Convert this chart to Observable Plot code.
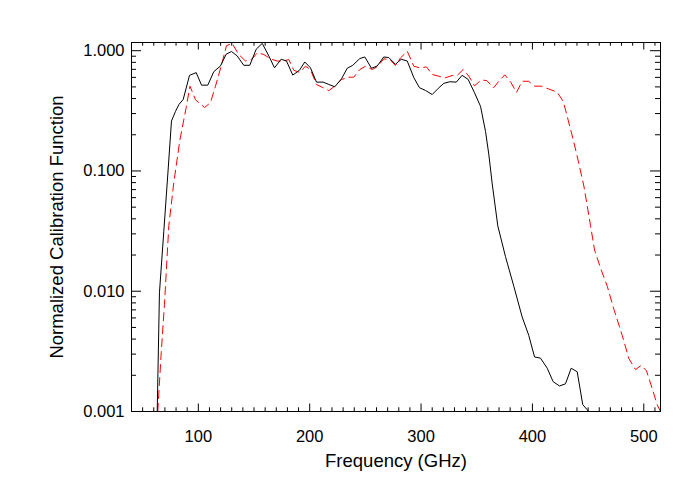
<!DOCTYPE html>
<html>
<head>
<meta charset="utf-8">
<script src="https://cdn.jsdelivr.net/npm/d3@7"></script>
<script src="https://cdn.jsdelivr.net/npm/@observablehq/plot@0.6"></script>
<style>
  html, body { margin: 0; padding: 0; background: #fff; }
  #chart { width: 700px; height: 500px; }
</style>
</head>
<body>
<div id="chart"></div>
<script>
// Black solid curve
const blackFreq = [63.1, 65.1, 69.0, 73.0, 75.9, 79.5, 82.5, 86.4, 92.1, 98.1, 102.9, 108.5, 113.9, 119.9, 125.0, 129.8, 134.9, 140.8, 146.2, 152.0, 157.4, 163.3, 168.4, 174.4, 179.2, 184.8, 190.8, 195.6, 200.7, 206.1, 212.1, 217.2, 222.5, 228.6, 233.7, 238.7, 245.0, 249.5, 255.5, 260.6, 266.5, 271.0, 277.0, 282.2, 287.6, 293.5, 298.6, 304.0, 310.0, 315.4, 320.4, 325.8, 331.6, 336.9, 342.3, 348.0, 353.4, 357.9, 360.9, 363.9, 368.9, 375.8, 383.3, 390.8, 396.7, 401.9, 407.2, 413.3, 418.6, 424.3, 429.7, 434.8, 440.2, 445.2, 450.6];
const blackCal = [0.001, 0.0097, 0.0315, 0.106, 0.26, 0.313, 0.356, 0.393, 0.624, 0.657, 0.517, 0.517, 0.67, 0.746, 0.935, 0.985, 0.905, 0.756, 0.756, 1.03, 1.15, 0.905, 0.72, 0.85, 0.82, 0.627, 0.687, 0.806, 0.72, 0.548, 0.548, 0.524, 0.501, 0.585, 0.714, 0.756, 0.86, 0.887, 0.714, 0.746, 0.887, 0.877, 0.771, 0.849, 0.821, 0.597, 0.492, 0.467, 0.432, 0.486, 0.535, 0.552, 0.548, 0.624, 0.577, 0.447, 0.345, 0.213, 0.136, 0.078, 0.035, 0.0194, 0.011, 0.0061, 0.0043, 0.00284, 0.00278, 0.00229, 0.00177, 0.00163, 0.0017, 0.00229, 0.00214, 0.00114, 0.001];

// Red dashed curve
const redFreq = [63.6, 66.7, 69.6, 73.5, 78.0, 83.4, 89.1, 92.5, 97.5, 105.6, 110.9, 115.4, 120.5, 125.3, 130.4, 136.3, 142.4, 148.4, 152.9, 158.8, 164.8, 170.8, 176.8, 181.2, 185.7, 191.1, 196.2, 200.7, 206.1, 211.2, 217.2, 223.2, 228.6, 234.6, 239.6, 245.0, 250.2, 256.2, 261.2, 266.5, 271.9, 277.0, 281.5, 287.6, 293.5, 298.9, 304.9, 310.0, 315.9, 321.3, 327.9, 332.4, 337.8, 342.9, 348.0, 354.0, 359.0, 365.0, 370.0, 375.2, 380.9, 385.7, 390.8, 396.7, 401.9, 407.9, 414.7, 422.2, 427.6, 431.2, 435.1, 439.6, 446.2, 452.2, 455.8, 461.8, 467.2, 473.1, 480.6, 486.6, 492.6, 497.7, 502.4, 507.5, 512.0, 515.0];
const redCal = [0.001, 0.0031, 0.0078, 0.035, 0.08, 0.18, 0.337, 0.507, 0.39, 0.337, 0.37, 0.507, 0.743, 1.1, 1.15, 0.93, 0.82, 0.855, 0.96, 0.93, 0.855, 0.82, 0.82, 0.845, 0.688, 0.66, 0.743, 0.697, 0.523, 0.497, 0.466, 0.513, 0.576, 0.602, 0.602, 0.697, 0.743, 0.697, 0.743, 0.855, 0.845, 0.753, 0.87, 0.99, 0.743, 0.72, 0.733, 0.634, 0.614, 0.593, 0.622, 0.622, 0.697, 0.614, 0.51, 0.57, 0.565, 0.49, 0.56, 0.63, 0.54, 0.45, 0.557, 0.557, 0.507, 0.507, 0.48, 0.452, 0.38, 0.285, 0.207, 0.14, 0.075, 0.035, 0.022, 0.015, 0.011, 0.0071, 0.0043, 0.00275, 0.00223, 0.00242, 0.00218, 0.00156, 0.00114, 0.001];

// Axis ticks and labels
const xMajorTicks = [100, 200, 300, 400, 500];
const xMinorTicks = d3.range(50, 515, 10).filter(v => v % 100 !== 0);
const yMajorTicks = [0.001, 0.01, 0.1, 1];
const yMinorTicks = [-3, -2, -1].flatMap(k => d3.range(2, 10).map(m => +(m * Math.pow(10, k)).toPrecision(3)));
const xTitle = "Frequency (GHz)";
const yTitle = "Normalized Calibration Function";

const W = 700, H = 500;
const mL = 131, mR = 40, mT = 42, mB = 89;
const innerW = W - mL - mR, innerH = H - mT - mB;

const black = blackFreq.map((f, i) => ({f, v: blackCal[i]}));
const red = redFreq.map((f, i) => ({f, v: redCal[i]}));

const chart = Plot.plot({
  width: W,
  height: H,
  marginLeft: mL,
  marginRight: mR,
  marginTop: mT,
  marginBottom: mB,
  style: {fontFamily: "'Liberation Sans', Arial, Helvetica, sans-serif", fontSize: "16.5px", color: "black", background: "white"},
  x: {domain: [40, 515], axis: null},
  y: {type: "log", domain: [0.001, 1.17], axis: null},
  marks: [
    Plot.line(red, {x: "f", y: "v", stroke: "#ff0000", strokeWidth: 1, strokeDasharray: "8,5", clip: true}),
    Plot.line(black, {x: "f", y: "v", stroke: "black", strokeWidth: 1, clip: true}),
    // tick labels
    Plot.axisX(xMajorTicks, {anchor: "bottom", tickSize: 0, tickPadding: 19, tickFormat: d => String(d), label: null, fontSize: 16.5}),
    Plot.axisY(yMajorTicks, {anchor: "left", tickSize: 0, tickPadding: 7, tickFormat: d3.format(".3f"), label: null, fontSize: 16.5}),
    // inward ticks on all four sides
    Plot.ruleX(xMajorTicks, {x: d => d, insetTop: innerH - 7.5, stroke: "black"}),
    Plot.ruleX(xMajorTicks, {x: d => d, insetBottom: innerH - 7.5, stroke: "black"}),
    Plot.ruleX(xMinorTicks, {x: d => d, insetTop: innerH - 3.7, stroke: "black"}),
    Plot.ruleX(xMinorTicks, {x: d => d, insetBottom: innerH - 3.7, stroke: "black"}),
    Plot.ruleY(yMajorTicks, {y: d => d, insetRight: innerW - 10, stroke: "black"}),
    Plot.ruleY(yMajorTicks, {y: d => d, insetLeft: innerW - 10, stroke: "black"}),
    Plot.ruleY(yMinorTicks, {y: d => d, insetRight: innerW - 5, stroke: "black"}),
    Plot.ruleY(yMinorTicks, {y: d => d, insetLeft: innerW - 5, stroke: "black"}),
    Plot.frame({stroke: "black", strokeWidth: 1}),
    // axis titles
    Plot.text([xTitle], {text: d => d, frameAnchor: "bottom", dy: 55, fontSize: 18.5, fill: "black"}),
    Plot.text([yTitle], {text: d => d, frameAnchor: "left", textAnchor: "middle", dx: -74, rotate: -90, fontSize: 18.5, fill: "black"})
  ]
});
document.getElementById("chart").appendChild(chart);
</script>
</body>
</html>
